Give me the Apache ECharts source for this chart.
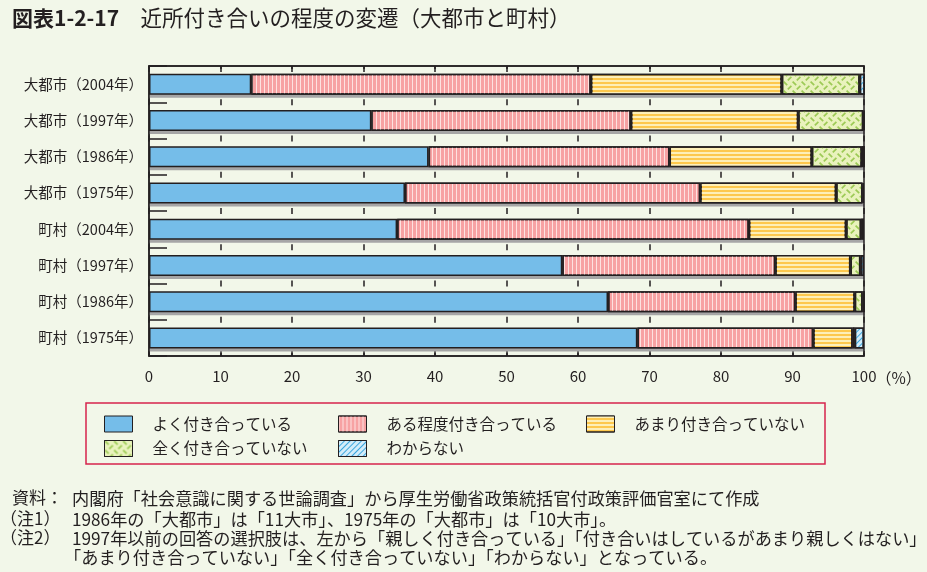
<!DOCTYPE html>
<html>
<head>
<meta charset="utf-8">
<script src="https://cdn.jsdelivr.net/npm/echarts@6/dist/echarts.min.js"></script>
<style>
html,body{margin:0;padding:0;background:#f2f7e9;}
#c{width:927px;height:572px;}
</style>
</head>
<body>
<div id="c"></div>
<script>
// ---- data ----
const categories = ['大都市（2004年）','大都市（1997年）','大都市（1986年）','大都市（1975年）','町村（2004年）','町村（1997年）','町村（1986年）','町村（1975年）'];
const seriesNames = ['よく付き合っている','ある程度付き合っている','あまり付き合っていない','全く付き合っていない','わからない'];
const yoku      = [14.3, 31.1, 39.1, 35.8, 34.7, 57.8, 64.2, 68.3];
const aruteido  = [47.5, 36.3, 33.7, 41.3, 49.2, 29.8, 26.2, 24.6];
const amari     = [26.7, 23.4, 19.9, 19.0, 13.6, 10.5,  8.3,  5.5];
const mattaku   = [10.9,  9.1,  7.0,  3.7,  2.1,  1.4,  1.1,  0.3];
const wakaranai = [ 0.7,  0.2,  0.4,  0.2,  0.4,  0.5,  0.3,  1.3];
const xTicks = [0,10,20,30,40,50,60,70,80,90,100];
const titleNo = '図表1-2-17';
const titleText = '近所付き合いの程度の変遷（大都市と町村）';
const notes = [
  ['資料：', '内閣府「社会意識に関する世論調査」から厚生労働省政策統括官付政策評価官室にて作成'],
  ['（注1）', '1986年の「大都市」は「11大市」、1975年の「大都市」は「10大市」。'],
  ['（注2）', '1997年以前の回答の選択肢は、左から「親しく付き合っている」「付き合いはしているがあまり親しくはない」'],
  ['', '「あまり付き合っていない」「全く付き合っていない」「わからない」となっている。']
];
const unitLabel = '（%）';

// ---- styles ----
const INK = '#231f20';
const CJK = '"Noto Sans CJK JP", "Noto Sans", sans-serif';
const NARROW = '"Liberation Sans Narrow", "Noto Sans CJK JP", sans-serif';

const values = [yoku, aruteido, amari, mattaku, wakaranai];
const totals = categories.map((c, j) => values.reduce((s, arr) => s + arr[j], 0));

const styles = [
  { color: '#75bde9', decal: null },
  { color: '#f7a2a3', decal: { symbol: 'rect', color: '#fde2e0', dashArrayX: [1, 3], dashArrayY: [1, 0], symbolSize: 1 } },
  { color: '#fdc84d', decal: { symbol: 'rect', color: '#fdefb8', dashArrayX: [1, 0], dashArrayY: [2, 2], symbolSize: 1 } },
  { color: '#e9f2bd', decal: { symbol: 'path://M0.5,1.5L1.5,0.5L4.5,3.5L3.5,4.5Z M4,7L7,4L8,5L5,8Z', color: '#9dca56', dashArrayX: [9, 0], dashArrayY: [9, 0], symbolSize: 1 } },
  { color: '#d3ecf9', decal: { symbol: 'rect', color: '#3ba7df', dashArrayX: [1, 0], dashArrayY: [1, 3], rotation: -Math.PI / 4, symbolSize: 1 } }
];

const series = values.map((arr, i) => {
  const itemStyle = { color: styles[i].color, borderColor: INK, borderWidth: 1.5 };
  if (styles[i].decal) itemStyle.decal = styles[i].decal;
  return {
    name: seriesNames[i],
    type: 'bar',
    stack: 'total',
    barWidth: 21,
    clip: false,
    z: 3,
    data: arr,
    itemStyle: itemStyle,
    emphasis: { disabled: true }
  };
});
// gray drop shadow under each bar (separate grid shifted 3px down)
series.unshift({
  name: 'shadow',
  type: 'bar',
  xAxisIndex: 2,
  yAxisIndex: 1,
  barWidth: 21,
  clip: false,
  silent: true,
  z: 1,
  data: totals,
  itemStyle: { color: '#a6a6a6' },
  emphasis: { disabled: true }
});

const legendCommon = {
  orient: 'vertical',
  padding: 0,
  itemWidth: 28,
  itemHeight: 16,
  itemGap: 7.5,
  icon: 'rect',
  selectedMode: false,
  textStyle: { fontFamily: CJK, fontSize: 15.5, color: INK, padding: [0, 0, 0, 15] },
  itemStyle: { borderColor: INK, borderWidth: 1 }
};

const textStyle = (font) => ({ font: font, fill: INK, textAlign: 'left', textVerticalAlign: 'middle', align: 'left', verticalAlign: 'middle' });
const graphics = [
  { type: 'rect', shape: { x: 86, y: 403, width: 739, height: 61 }, style: { fill: 'none', stroke: '#d6254c', lineWidth: 1.5 } },
  { type: 'text', x: 876, y: 378, style: Object.assign({ text: unitLabel }, textStyle('15.5px ' + CJK)) }
];
const noteY = [498, 519, 538, 557];
notes.forEach((n, i) => {
  if (n[0]) {
    graphics.push({ type: 'text', x: i === 0 ? 12 : 0, y: noteY[i], style: Object.assign({ text: n[0] }, textStyle('17px ' + CJK)) });
  }
  graphics.push({ type: 'text', x: i === 3 ? 64 : 72, y: noteY[i], style: Object.assign({ text: n[1] }, textStyle('17.2px ' + CJK)) });
});

const chart = echarts.init(document.getElementById('c'), null, { renderer: 'canvas' });
const option = {
  backgroundColor: '#f2f7e9',
  animation: false,
  aria: { enabled: false },
  title: {
    left: 12, top: 4, padding: 0,
    text: '{a|' + titleNo + '}{b|　' + titleText + '}',
    textStyle: {
      rich: {
        a: { fontFamily: CJK, fontSize: 21, fontWeight: 'bold', color: INK, lineHeight: 28 },
        b: { fontFamily: CJK, fontSize: 21.5, fontWeight: 'normal', color: INK, lineHeight: 28 }
      }
    }
  },
  grid: [
    { left: 149, right: 63, top: 66, bottom: 216, show: true, borderColor: INK, borderWidth: 1.5, backgroundColor: 'transparent', z: 2 },
    { left: 149, right: 63, top: 69, bottom: 213, show: false }
  ],
  xAxis: [
    {
      type: 'value', gridIndex: 0, position: 'bottom', min: 0, max: 100, interval: 10,
      axisLine: { show: true, lineStyle: { color: INK, width: 1.5 } },
      axisTick: { show: true, inside: true, length: 5, lineStyle: { color: INK, width: 1.5 } },
      axisLabel: { margin: 13, fontFamily: NARROW, fontSize: 15, color: INK,
        formatter: v => (xTicks.indexOf(v) >= 0 ? String(v) : '') },
      splitLine: { show: true, lineStyle: { color: INK, width: 1.5, type: [6, 30.25], dashOffset: 3 } }
    },
    {
      type: 'value', gridIndex: 0, position: 'top', min: 0, max: 100, interval: 10,
      axisLine: { show: true, lineStyle: { color: INK, width: 1.5 } },
      axisTick: { show: true, inside: true, length: 6, lineStyle: { color: INK, width: 1.5 } },
      axisLabel: { show: false },
      splitLine: { show: false }
    },
    {
      type: 'value', gridIndex: 1, min: 0, max: 100, show: false
    }
  ],
  yAxis: [
    {
      type: 'category', gridIndex: 0, data: categories, inverse: true,
      axisLine: { show: true, lineStyle: { color: INK, width: 1.5 } },
      axisTick: { show: true, inside: true, length: 18, lineStyle: { color: INK, width: 1.5 } },
      axisLabel: { margin: 6, fontFamily: CJK, fontSize: 14.5, color: INK }
    },
    {
      type: 'category', gridIndex: 1, data: categories, inverse: true, show: false
    }
  ],
  legend: [
    Object.assign({}, legendCommon, { left: 104, top: 415.5, data: [seriesNames[0], seriesNames[3]] }),
    Object.assign({}, legendCommon, { left: 338, top: 415.5, data: [seriesNames[1], seriesNames[4]] }),
    Object.assign({}, legendCommon, { left: 586, top: 415.5, data: [seriesNames[2]] })
  ],
  graphic: graphics,
  series: series
};
chart.setOption(option);
</script>
</body>
</html>
